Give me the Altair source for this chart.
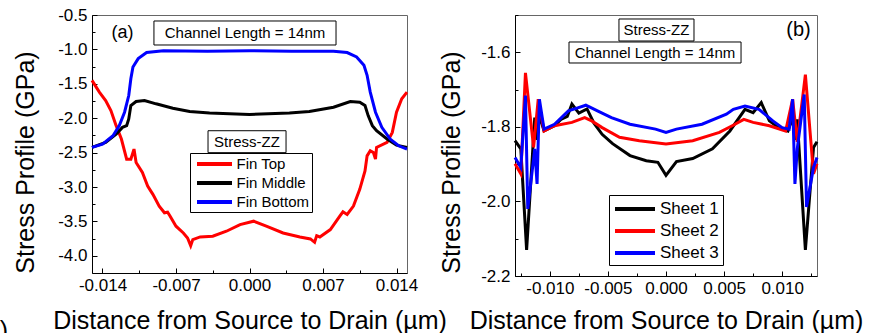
import altair as alt
import pandas as pd

FONT = "Liberation Sans"
MINUS = "\u2212"

# ---------------- Panel (a): Fin ----------------
a_top_x = [-0.0150, -0.0143, -0.0137, -0.0132, -0.0127, -0.0122, -0.0117, -0.0113, -0.0110, -0.0108,
           -0.0102, -0.0097, -0.0092, -0.0086, -0.0081, -0.0078, -0.0076, -0.0070, -0.0063, -0.0059,
           -0.0056, -0.0054, -0.0047, -0.0035, -0.0022, -0.0009, 0.0004, 0.0016, 0.0032, 0.0048,
           0.0058, 0.0062, 0.0064, 0.0067, 0.0077, 0.0086, 0.0089, 0.0093, 0.0099, 0.0105,
           0.0110, 0.0112, 0.0115, 0.0118, 0.0120, 0.0121, 0.0131, 0.0136, 0.0140, 0.0145, 0.0150]
a_top_y = [-1.45, -1.62, -1.743, -1.889, -2.108, -2.303, -2.595, -2.595, -2.449, -2.644,
           -2.79, -2.985, -3.107, -3.278, -3.375, -3.366, -3.414, -3.57, -3.668, -3.74,
           -3.853, -3.765, -3.726, -3.716, -3.643, -3.546, -3.497, -3.57, -3.668, -3.726,
           -3.755, -3.804, -3.707, -3.726, -3.619, -3.424, -3.36, -3.40, -3.278, -3.034,
           -2.766, -2.547, -2.474, -2.498, -2.595, -2.425, -2.352, -2.206, -1.913, -1.718, -1.62]

a_mid_x = [-0.0150, -0.0137, -0.0127, -0.0121, -0.0117, -0.0115, -0.0113, -0.0108, -0.0100, -0.0089,
           -0.0073, -0.0057, -0.0038, 0.0, 0.0038, 0.0057, 0.0080, 0.0096, 0.0105, 0.0110,
           0.0113, 0.0117, 0.0121, 0.0131, 0.0140, 0.0150]
a_mid_y = [-2.425, -2.352, -2.23, -2.133, -2.108, -2.011, -1.816, -1.757, -1.743, -1.791,
           -1.855, -1.904, -1.923, -1.947, -1.923, -1.904, -1.84, -1.757, -1.767, -1.816,
           -1.962, -2.108, -2.181, -2.303, -2.391, -2.425]

a_bot_x = [-0.0150, -0.0140, -0.0130, -0.0124, -0.0119, -0.0115, -0.0113, -0.0111, -0.0106, -0.0098,
           -0.0082, -0.0040, 0.0, 0.0040, 0.0080, 0.0093, 0.0102, 0.0109, 0.0112, 0.0115,
           0.0120, 0.0126, 0.0134, 0.0142, 0.0150]
a_bot_y = [-2.425, -2.376, -2.254, -2.108, -1.913, -1.67, -1.426, -1.255, -1.134, -1.046,
           -1.021, -1.026, -1.02, -1.026, -1.026, -1.046, -1.109, -1.231, -1.377, -1.621,
           -1.913, -2.133, -2.303, -2.401, -2.449]

a_series = ["Fin Top", "Fin Middle", "Fin Bottom"]
a_colors = ["#ff0000", "#000000", "#0000ff"]
a_xticks = [-0.014, -0.007, 0.0, 0.007, 0.014]
a_xminor = [-0.0105, -0.0035, 0.0035, 0.0105]
a_yticks = [-4.0, -3.5, -3.0, -2.5, -2.0, -1.5, -1.0, -0.5]
a_yminor = [-3.75, -3.25, -2.75, -2.25, -1.75, -1.25, -0.75]

# ---------------- Panel (b): Sheets ----------------
b_s1_x = [-0.0130, -0.0125, -0.0120, -0.0113, -0.0111, -0.0109, -0.0105, -0.0096, -0.0090, -0.0085,
          -0.0081, -0.0075, -0.0068, -0.0062, -0.0055, -0.0046, -0.0031, -0.0017, -0.0007, 0.0,
          0.0009, 0.0023, 0.0040, 0.0055, 0.0063, 0.0068, 0.0075, 0.0082, 0.0089, 0.0097,
          0.0105, 0.0109, 0.0111, 0.0113, 0.0120, 0.0127, 0.0130]
b_s1_y = [-1.837, -1.859, -2.130, -1.775, -1.835, -1.770, -1.811, -1.797, -1.779, -1.772,
          -1.739, -1.763, -1.752, -1.790, -1.820, -1.845, -1.877, -1.891, -1.895, -1.930,
          -1.893, -1.885, -1.859, -1.811, -1.775, -1.753, -1.762, -1.735, -1.784, -1.802,
          -1.811, -1.775, -1.835, -1.780, -2.130, -1.855, -1.840]

b_s2_x = [-0.0130, -0.0125, -0.0121, -0.0114, -0.0110, -0.0105, -0.0096, -0.0081, -0.0070, -0.0064,
          -0.0055, -0.0040, -0.0023, 0.0, 0.0023, 0.0046, 0.0057, 0.0067, 0.0075, 0.0089,
          0.0103, 0.0109, 0.0113, 0.0120, 0.0127, 0.0130]
b_s2_y = [-1.899, -1.926, -1.655, -1.855, -1.726, -1.811, -1.797, -1.788, -1.775, -1.784,
          -1.802, -1.828, -1.837, -1.846, -1.837, -1.815, -1.797, -1.780, -1.788, -1.797,
          -1.811, -1.726, -1.840, -1.660, -1.926, -1.899]

b_s3_x = [-0.0130, -0.0125, -0.0121, -0.0119, -0.0113, -0.0111, -0.0109, -0.0105, -0.0096, -0.0084,
          -0.0076, -0.0069, -0.0059, -0.0047, -0.0031, -0.0009, 0.0, 0.0009, 0.0031, 0.0052,
          0.0058, 0.0068, 0.0080, 0.0092, 0.0100, 0.0106, 0.0109, 0.0111, 0.0113, 0.0119,
          0.0121, 0.0127, 0.0130]
b_s3_y = [-1.882, -1.909, -1.716, -2.020, -1.859, -1.953, -1.726, -1.806, -1.793, -1.757,
          -1.749, -1.742, -1.757, -1.775, -1.793, -1.806, -1.815, -1.806, -1.793, -1.766,
          -1.753, -1.744, -1.753, -1.784, -1.802, -1.806, -1.726, -1.953, -1.859, -1.713,
          -2.015, -1.909, -1.882]

b_series = ["Sheet 1", "Sheet 2", "Sheet 3"]
b_colors = ["#000000", "#ff0000", "#0000ff"]
b_xticks = [-0.010, -0.005, 0.0, 0.005, 0.010]
b_xminor = [-0.0125, -0.0075, -0.0025, 0.0025, 0.0075, 0.0125]
b_yticks = [-2.2, -2.0, -1.8, -1.6]
b_yminor = [-2.1, -1.9, -1.7, -1.5]

x_title = "Distance from Source to Drain (\u00b5m)"
y_title = "Stress Profile (GPa)"


def long_df(series, xs, ys):
    rows = []
    for name, xv, yv in zip(series, xs, ys):
        for i, (a, b) in enumerate(zip(xv, yv)):
            rows.append({"x": a, "y": b, "s": name, "i": i})
    return pd.DataFrame(rows)


a_df = long_df(a_series, [a_top_x, a_mid_x, a_bot_x], [a_top_y, a_mid_y, a_bot_y])
b_df = long_df(b_series, [b_s1_x, b_s2_x, b_s3_x], [b_s1_y, b_s2_y, b_s3_y])

# annotation boxes / texts (data coordinates)
a_boxes = pd.DataFrame({"x": [-0.0091, -0.00395], "x2": [0.00824, 0.00348],
                        "y": [-0.587, -2.182], "y2": [-0.936, -2.501]})
a_texts = pd.DataFrame({"x": [-0.0121, -0.00043, -0.00024, -0.02338],
                        "y": [-0.762, -0.762, -2.342, -5.093],
                        "t": ["(a)", "Channel Length = 14nm", "Stress-ZZ", ")"],
                        "fs": [18, 15, 15, 25]})
b_boxes = pd.DataFrame({"x": [-0.00405, -0.00835], "x2": [0.00241, 0.00646],
                        "y": [-1.5107, -1.5724], "y2": [-1.5697, -1.6287]})
b_texts = pd.DataFrame({"x": [0.01141, -0.00082, -0.00095],
                        "y": [-1.540, -1.540, -1.6006],
                        "t": ["(b)", "Stress-ZZ", "Channel Length = 14nm"],
                        "fs": [20, 15, 15]})

LINE_SYMBOL = "M-2.5,0H2.5"


def lbl(fmt):
    return "replace(format(datum.value, '" + fmt + "'), '" + MINUS + "', '-')"


def panel(df, series, colors, xdom, ydom, xticks, xminor, yticks, yminor,
          w, h, xfmt, yfmt, x_title_y, y_title_x, y_title_y, leg, boxes, texts):
    xs = alt.Scale(domain=xdom, nice=False, zero=False)
    ys = alt.Scale(domain=ydom, nice=False, zero=False)
    lines = alt.Chart(df).mark_line(strokeWidth=3, strokeJoin="miter").encode(
        x=alt.X("x:Q", scale=xs, axis=alt.Axis(
            orient="bottom", values=xticks, labelExpr=lbl(xfmt), tickSize={"expr": "-5"},
            labelPadding=9, labelFlush=False, labelOverlap=False, title=x_title,
            titleY=x_title_y, titleBaseline="alphabetic", titleAlign="center")),
        y=alt.Y("y:Q", scale=ys, axis=alt.Axis(
            orient="left", values=yticks, labelExpr=lbl(yfmt), tickSize={"expr": "-5"},
            labelPadding=10, labelOverlap=False, title=y_title, titleX=y_title_x,
            titleY=y_title_y, titleAngle=270, titleBaseline="alphabetic", titleAlign="center")),
        color=alt.Color("s:N", scale=alt.Scale(domain=series, range=colors), legend=leg),
        detail="s:N",
        order="i:Q",
    )
    minor = alt.Chart(df).mark_point(opacity=0).encode(
        x=alt.X("x:Q", scale=xs, axis=alt.Axis(
            orient="bottom", values=xminor, labels=False, domain=False, title=None,
            tickSize={"expr": "-3"})),
        y=alt.Y("y:Q", scale=ys, axis=alt.Axis(
            orient="left", values=yminor, labels=False, domain=False, title=None,
            tickSize={"expr": "-3"})),
    )
    rects = alt.Chart(boxes).mark_rect(fill="white", stroke="black", strokeWidth=1).encode(
        x=alt.X("x:Q", scale=xs, axis=None), x2="x2:Q",
        y=alt.Y("y:Q", scale=ys, axis=None), y2="y2:Q",
    )
    txt = alt.Chart(texts).mark_text(font=FONT, color="black", align="center",
                                     baseline="middle").encode(
        x=alt.X("x:Q", scale=xs, axis=None),
        y=alt.Y("y:Q", scale=ys, axis=None),
        text="t:N",
        size=alt.Size("fs:Q", scale=None, legend=None),
    )
    return alt.layer(lines, minor, rects, txt).resolve_axis(
        x="independent", y="independent").properties(width=w, height=h)


a_leg = alt.Legend(title=None, orient="none", legendX=98, legendY=138, strokeColor="black",
                   fillColor="white", padding=2, rowPadding=2, labelFontSize=15, labelFont=FONT,
                   labelColor="black", symbolType=LINE_SYMBOL, symbolSize=196,
                   symbolStrokeWidth=4, symbolOffset=13.5, labelOffset=13)
b_leg = alt.Legend(title=None, orient="none", legendX=94, legendY=180, strokeColor="black",
                   fillColor="white", padding=4, rowPadding=4, labelFontSize=17, labelFont=FONT,
                   labelColor="black", symbolType=LINE_SYMBOL, symbolSize=256,
                   symbolStrokeWidth=4, symbolOffset=12, labelOffset=15)

left = panel(a_df, a_series, a_colors, [-0.015, 0.015], [-4.25, -0.5], a_xticks, a_xminor,
             a_yticks, a_yminor, 315, 258, ".3f", ".1f", 55, -59, 147, a_leg, a_boxes, a_texts)
right = panel(b_df, b_series, b_colors, [-0.013, 0.013], [-2.2, -1.5], b_xticks, b_xminor,
              b_yticks, b_yminor, 302, 261, ".3f", ".1f", 52, -56, 147, b_leg, b_boxes, b_texts)

chart = alt.hconcat(left, right, spacing=108, bounds="flush").resolve_scale(
    color="independent"
).properties(
    autosize=alt.AutoSizeParams(type="none"),
    padding={"left": 92, "top": 15, "right": 784, "bottom": 318},
    background="white",
).configure_view(
    stroke="#666666", strokeWidth=1
).configure_axis(
    labelFont=FONT, labelFontSize=17, labelColor="black",
    titleFont=FONT, titleFontSize=25, titleFontWeight="normal", titleColor="black",
    domainColor="black", tickColor="black", tickWidth=1, domainWidth=1, grid=False,
)

chart.save("out.html", embed_options={"renderer": "svg", "actions": False})
